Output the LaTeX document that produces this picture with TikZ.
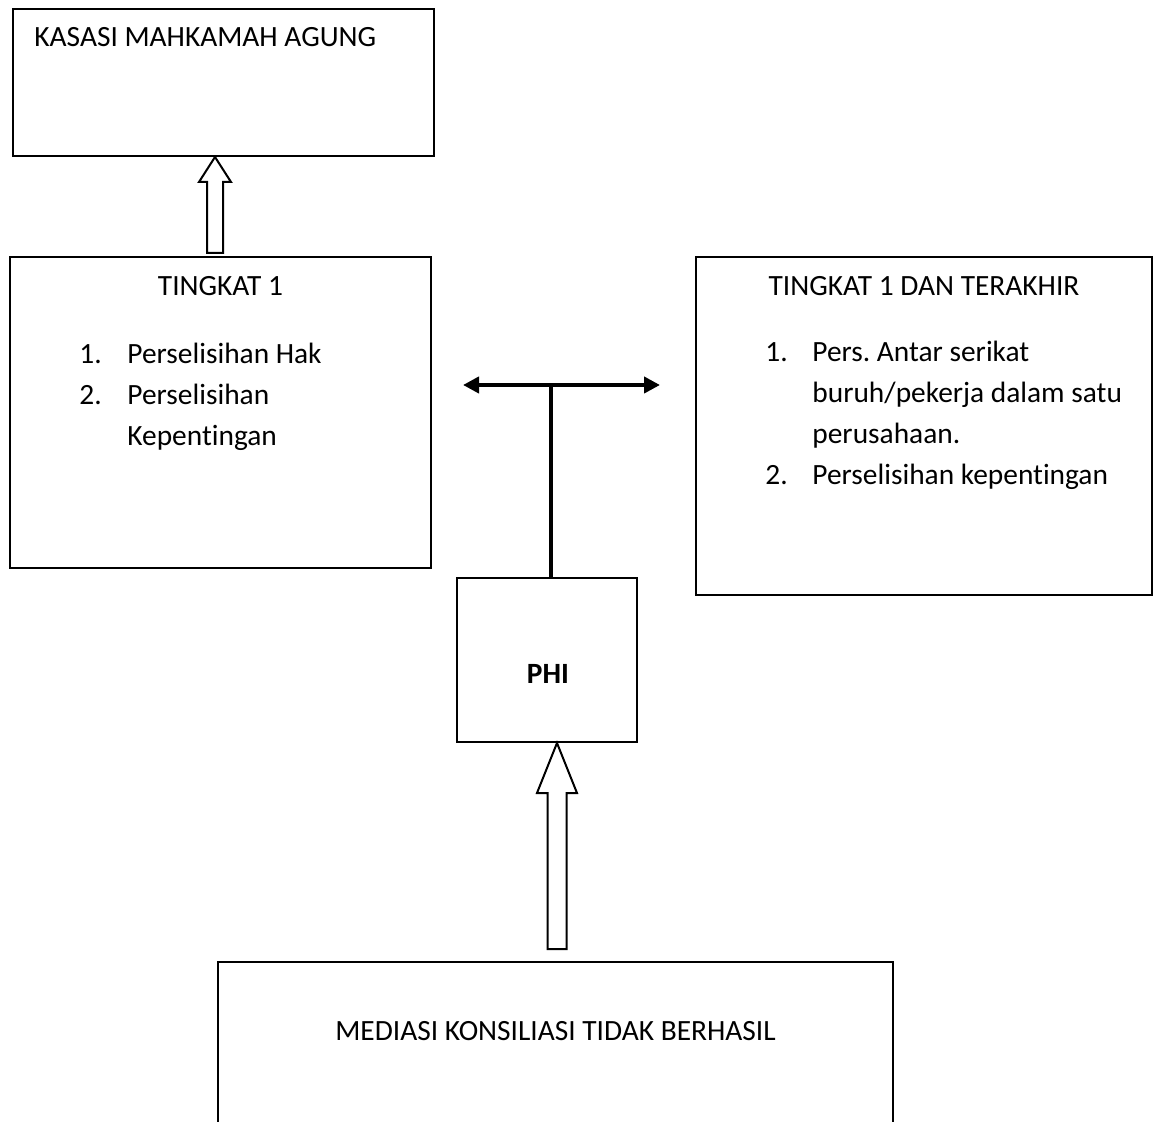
\documentclass[tikz,border=0pt]{standalone}
\usepackage{fontspec}
\setmainfont{Carlito}[Ligatures=NoCommon]
\usetikzlibrary{arrows.meta, calc, fit}
\frenchspacing

\begin{document}
\begin{tikzpicture}[x=0.5pt, y=-0.5pt,
  kotak/.style={draw, line width=1pt, inner sep=0pt},
  teks/.style={inner sep=0pt, font=\fontsize{14.7}{20.5}\selectfont},
  blok/.style={draw, line width=1pt, fill=white, line join=miter},
  tebal/.style={line width=2pt}]
\useasboundingbox (0,0) rectangle (1160,1122);
\node[kotak, fit={(13,9) (434,156)}] (kasasi) {};
\node[kotak, fit={(10,257) (431,568)}] (tingkat) {};
\node[kotak, fit={(696,257) (1152,595)}] (terakhir) {};
\node[kotak, fit={(457,578) (637,742)}] (phi) {};
\node[kotak, fit={(218,962) (893,1180)}] (mediasi) {};
\node[teks, anchor=base west] (judulkasasi) at ($(kasasi.north west)+(22,39)$) {KASASI MAHKAMAH AGUNG};
\node[teks, anchor=base] (judultingkat) at ($(tingkat.north)+(0,40)$) {TINGKAT 1};
\node[teks, anchor=base west] (daftartingkat) at ($(tingkat.north west)+(70,108)$) {\begin{tabular}[t]{@{}p{24pt}@{}l@{}}
1. & Perselisihan Hak\\
2. & Perselisihan\\
 & Kepentingan
\end{tabular}};
\node[teks, anchor=base] (judulterakhir) at ($(terakhir.north)+(0,40)$) {TINGKAT 1 DAN TERAKHIR};
\node[teks, anchor=base west] (daftarterakhir) at ($(terakhir.north west)+(70,106)$) {\begin{tabular}[t]{@{}p{23.5pt}@{}l@{}}
1. & Pers. Antar serikat\\
 & buruh/pekerja dalam satu\\
 & perusahaan.\\
2. & Perselisihan kepentingan
\end{tabular}};
\node[teks, font=\fontsize{14.7}{20.5}\selectfont\bfseries, anchor=base] (judulphi) at ($(phi.center)+(1,23)$) {PHI};
\node[teks, anchor=base] (judulmediasi) at ($(mediasi.north)+(0,79)$) {MEDIASI KONSILIASI TIDAK BERHASIL};
\coordinate (ujung1) at ($(kasasi.south)+(-8.5,0)$);
\coordinate (ujung2) at ($(phi.south)+(10,0)$);
\draw[blok] (ujung1) -- ++(16,25) -- ++(-8,0) -- ++(0,71) -- ++(-16,0) -- ++(0,-71) -- ++(-8,0) -- cycle;
\draw[blok] (ujung2) -- ++(20,50) -- ++(-10.5,0) -- ++(0,156) -- ++(-19,0) -- ++(0,-156) -- ++(-10.5,0) -- cycle;
\coordinate (kaki) at ($(phi.north)+(4,0)$);
\coordinate (cabang) at ($(kaki)+(0,-192)$);
\coordinate (kiri) at ($(cabang)+(-88,0)$);
\coordinate (kanan) at ($(cabang)+(109,0)$);
\draw[tebal] (kaki) -- (cabang);
\draw[tebal, {Triangle[length=8pt,width=8pt]}-{Triangle[length=8pt,width=8pt]}] (kiri) -- (kanan);
\end{tikzpicture}
\end{document}
